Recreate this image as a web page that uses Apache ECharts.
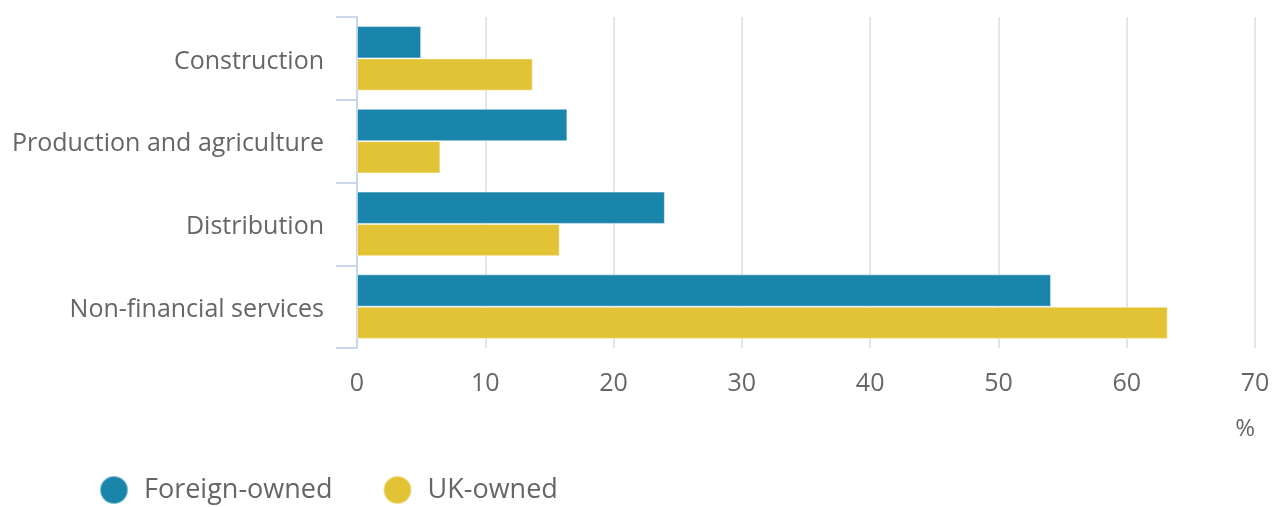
<!DOCTYPE html>
<html>
<head>
<meta charset="utf-8">
<script src="https://cdn.jsdelivr.net/npm/echarts@6/dist/echarts.min.js"></script>
<style>
  html, body { margin: 0; padding: 0; background: #ffffff; }
  #chart { width: 1276px; height: 507px; }
</style>
</head>
<body>
<div id="chart"></div>
<script>
// Share of businesses by industry group (%)
const categories = ['Construction', 'Production and agriculture', 'Distribution', 'Non-financial services'];
const foreignOwned = [5.0, 16.4, 24.0, 54.1];
const ukOwned = [13.7, 6.5, 15.8, 63.2];
const seriesNames = ['Foreign-owned', 'UK-owned'];

const FONT = '"Open Sans", "Noto Sans", sans-serif';
const TEXT = '#666666';

const chart = echarts.init(document.getElementById('chart'), null, { renderer: 'canvas' });

chart.setOption({
  animation: false,
  color: ['#1a85ab', '#e3c336'],
  textStyle: { fontFamily: FONT },
  grid: { left: 357, right: 21, top: 17, bottom: 159, containLabel: false },
  legend: {
    data: seriesNames,
    left: 94,
    top: 470,
    icon: 'circle',
    itemWidth: 28,
    itemHeight: 28,
    itemGap: 50,
    textStyle: { fontFamily: FONT, fontSize: 27, color: TEXT, padding: [4, 0, 0, 11] }
  },
  xAxis: {
    type: 'value',
    min: 0,
    max: 70,
    interval: 10,
    name: '%',
    nameLocation: 'end',
    nameGap: 0,
    nameTextStyle: { fontFamily: FONT, fontSize: 24, color: TEXT, align: 'right', verticalAlign: 'top', padding: [69, 0, 0, 0] },
    axisLine: { show: false },
    axisTick: { show: false },
    axisLabel: { fontFamily: FONT, fontSize: 25, color: TEXT, margin: 23 },
    splitLine: { show: true, lineStyle: { color: '#e6e6e6', width: 2 } }
  },
  yAxis: {
    type: 'category',
    data: categories,
    inverse: true,
    axisLine: { show: true, lineStyle: { color: '#ccd6eb', width: 2 } },
    axisTick: { show: true, length: 21, lineStyle: { color: '#ccd6eb', width: 2 } },
    axisLabel: {
      margin: 33,
      formatter: (v) => '{c|' + v + '}',
      rich: {
        c: { fontFamily: FONT, fontSize: 25, color: TEXT, padding: [6, 0, 0, 0] }
      }
    },
    splitLine: { show: false }
  },
  series: [
    {
      name: seriesNames[0],
      type: 'bar',
      data: foreignOwned,
      barGap: '0%',
      barCategoryGap: '22%',
      itemStyle: { borderColor: 'rgba(255,255,255,0.45)', borderWidth: 1 }
    },
    {
      name: seriesNames[1],
      type: 'bar',
      data: ukOwned,
      barGap: '0%',
      barCategoryGap: '22%',
      itemStyle: { borderColor: 'rgba(255,255,255,0.45)', borderWidth: 1 }
    }
  ]
});
</script>
</body>
</html>
